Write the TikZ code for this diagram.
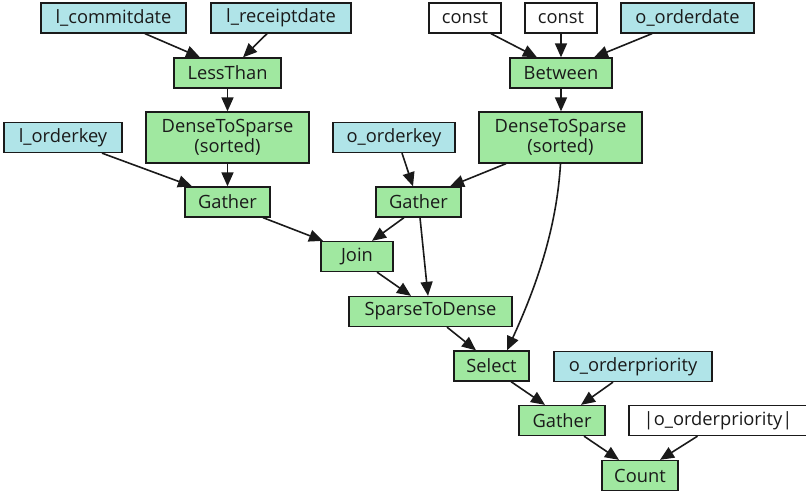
\documentclass[tikz,border=0pt]{standalone}
\usepackage{fontspec}
\setmainfont{Open Sans}
\usetikzlibrary{arrows.meta,calc}
\definecolor{opgreen}{HTML}{A0E8A0}
\definecolor{colblue}{HTML}{B0E4E8}
\definecolor{inkline}{HTML}{1A1A1A}
\begin{document}
\begin{tikzpicture}[x=1pt,y=-1pt,
  box/.style={draw=inkline, line width=1.3pt, inner sep=0pt, minimum height=30pt,
    font=\fontsize{18.3}{20}\selectfont, align=center, text=inkline},
  op/.style={box, fill=opgreen},
  col/.style={box, fill=colblue},
  lit/.style={box, fill=white},
  edge/.style={line width=1.6pt, draw=inkline, -{Triangle[length=14pt,width=12pt]}},
]
\useasboundingbox (0,0) rectangle (806,494);

% input columns and literals
\node[col, minimum width=145pt] (lcommit)  at (113.5,18) {l\_commitdate};
\node[col, minimum width=140pt] (lreceipt) at (281,18)   {l\_receiptdate};
\node[lit, minimum width=72pt]  (cA)       at (465,18)   {const};
\node[lit, minimum width=72pt]  (cB)       at (561,18)   {const};
\node[col, minimum width=133pt] (odate)    at (687.5,18) {o\_orderdate};
\node[col, minimum width=118pt] (lokey)    at (63,137.5) {l\_orderkey};
\node[col, minimum width=122pt] (ookey)    at (394,137.5) {o\_orderkey};
\node[col, minimum width=158pt] (oprio)    at (633,366.5) {o\_orderpriority};
\node[lit, minimum width=178pt] (nprio)    at (718,420.5) {|o\_orderpriority|};

% operators
\node[op, minimum width=107pt] (lt)    at (227.5,73)  {LessThan};
\node[op, minimum width=102pt] (btw)   at (561,73)    {Between};
\node[op, minimum width=163pt, minimum height=51pt] (dtsL) at (227.5,137.5) {DenseToSparse\\(sorted)};
\node[op, minimum width=163pt, minimum height=51pt] (dtsR) at (560.5,137.5) {DenseToSparse\\(sorted)};
\node[op, minimum width=85pt]  (gL)    at (227.5,202) {Gather};
\node[op, minimum width=85pt]  (gM)    at (418.5,202) {Gather};
\node[op, minimum width=72pt]  (join)  at (357,256.5) {Join};
\node[op, minimum width=163pt] (s2d)   at (430.5,311.5) {SparseToDense};
\node[op, minimum width=75pt]  (sel)   at (491.5,366) {Select};
\node[op, minimum width=86pt]  (gB)    at (562,420.5) {Gather};
\node[op, minimum width=76pt]  (count) at (640,475.5) {Count};

% connectors
\draw[edge] ($(lcommit.south)+(31.5,0)$) -- ($(lt.north)+(-27.5,0)$);
\draw[edge] ($(lreceipt.south)+(-14,0)$) -- ($(lt.north)+(15.5,0)$);
\draw[edge] (lt) -- (dtsL);
\draw[edge] (dtsL) -- (gL);
\draw[edge] ($(lokey.south)+(39,0)$) -- ($(gL.north)+(-35.5,0)$);
\draw[edge] ($(gL.south)+(35.5,0)$) -- ($(join.north)+(-34,0)$);

\draw[edge] ($(cA.south)+(26,0)$) -- ($(btw.north)+(-24,0)$);
\draw[edge] (cB) -- (btw);
\draw[edge] ($(odate.south)+(-35.5,0)$) -- ($(btw.north)+(33,0)$);
\draw[edge] (btw.south) -- (btw.south |- dtsR.north);

\draw[edge] ($(dtsR.south)+(-54.5,0)$) -- ($(gM.north)+(31.5,0)$);
\draw[edge] ($(ookey.south)+(8,0)$) -- ($(gM.north)+(-5.5,0)$);
\draw[edge] ($(gM.south)+(-14.5,0)$) -- ($(join.north)+(15,0)$);
\draw[edge] ($(gM.south)+(1.5,0)$) -- ($(s2d.north)+(-2.5,0)$);
\draw[edge] ($(join.south)+(20,0)$) -- ($(s2d.north)+(-19.5,0)$);

\draw[edge] (dtsR.south) .. controls ($(dtsR.south)+(-4,67)$) and ($(sel.north)+(43.5,-61)$) .. ($(sel.north)+(15.5,0)$);
\draw[edge] ($(s2d.south)+(16.5,0)$) -- ($(sel.north)+(-15.5,0)$);

\draw[edge] ($(sel.south)+(19.5,0)$) -- ($(gB.north)+(-17,0)$);
\draw[edge] ($(oprio.south)+(-20,0)$) -- ($(gB.north)+(19,0)$);
\draw[edge] ($(gB.south)+(22,0)$) -- ($(count.north)+(-21,0)$);
\draw[edge] ($(nprio.south)+(-20.5,0)$) -- ($(count.north)+(20,0)$);
\end{tikzpicture}
\end{document}
